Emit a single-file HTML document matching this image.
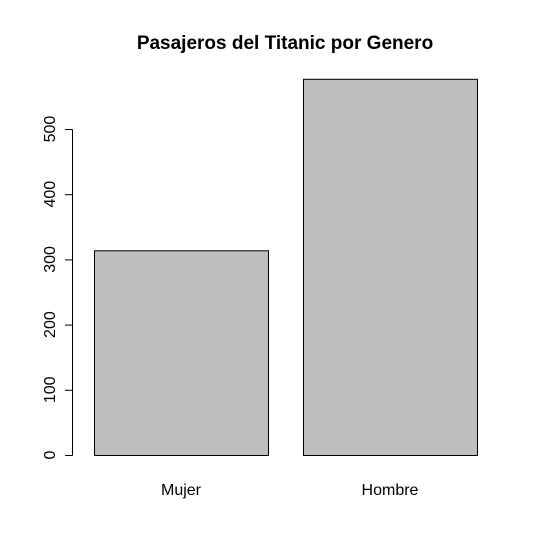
<!DOCTYPE html>
<html><head><meta charset="utf-8"><style>body{margin:0;background:#fff}svg{display:block}text{font-family:"Liberation Sans",Arial,sans-serif}</style></head>
<body>
<svg id="c" width="534" height="557">
<text x="285" y="49" text-anchor="middle" font-size="19" font-weight="bold">Pasajeros del Titanic por Genero</text>
</svg>
<script>
const categories=["Mujer","Hombre"];
const values=[314,577];
const ticks=[0,100,200,300,400,500];
const svg=document.getElementById('c');
const NS='http://www.w3.org/2000/svg';
const y=v=>455-v*0.652;
const bx=[94,303],bw=174;
function mk(t,a){const e=document.createElementNS(NS,t);for(const k in a)e.setAttribute(k,a[k]);svg.appendChild(e);return e;}
categories.forEach((c,i)=>{
 const r=mk('rect',{x:bx[i]+0.5,y:y(values[i])+0.5,width:bw,height:455-y(values[i]),fill:'#bebebe',stroke:'#000'});
 
 
 const t=mk('text',{x:bx[i]+bw/2,y:495,'text-anchor':'middle','font-size':'16'});
 t.textContent=c;
 
 
});
const ax=mk('line',{x1:72.5,x2:72.5,y1:y(0)+0.5,y2:y(500)+0.5,stroke:'#000'});


ticks.forEach(v=>{
 const l=mk('line',{x1:65,x2:72.5,y1:y(v)+0.5,y2:y(v)+0.5,stroke:'#000'});
 
 
 const t=mk('text',{x:55,y:y(v),'text-anchor':'middle','font-size':'16',transform:`rotate(-90 55 ${y(v)})`});
 t.textContent=v;
 
 
});
</script>
</body></html>
